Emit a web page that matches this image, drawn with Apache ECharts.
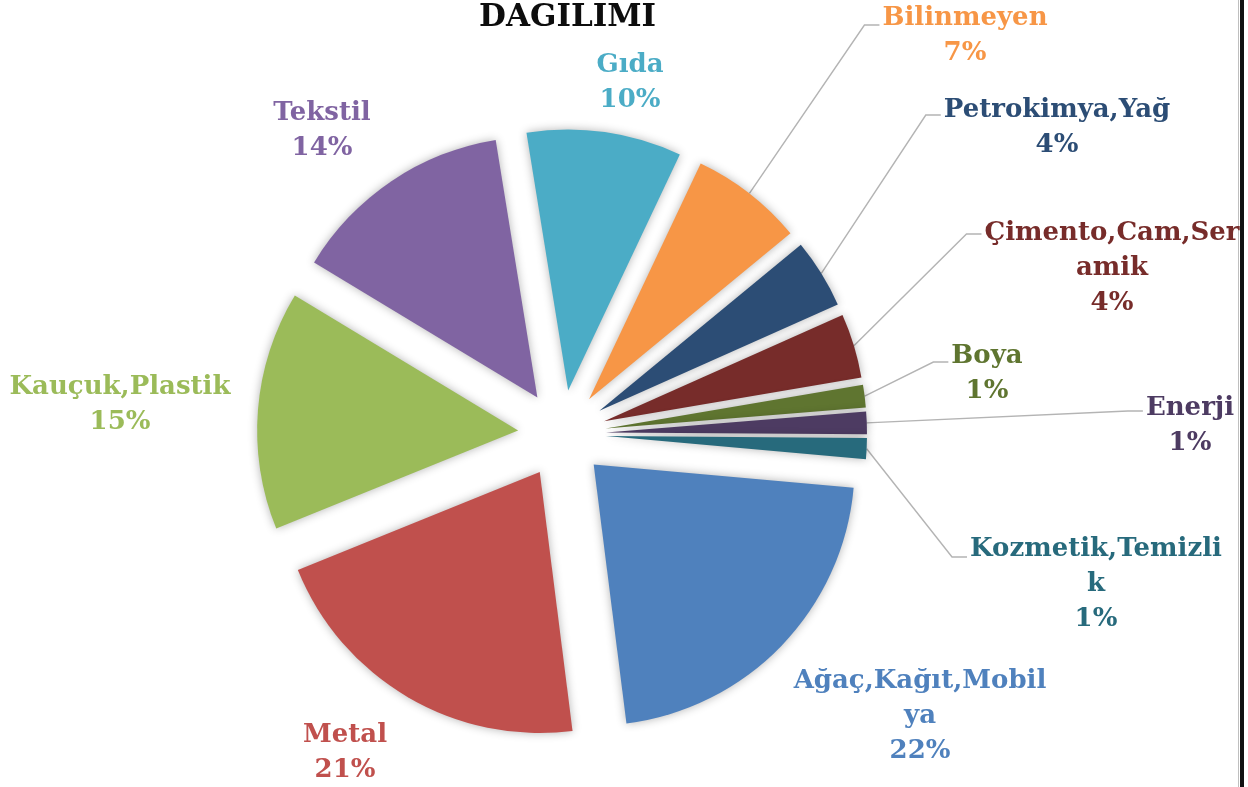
<!DOCTYPE html>
<html>
<head>
<meta charset="utf-8">
<script src="https://cdn.jsdelivr.net/npm/echarts@6/dist/echarts.min.js"></script>
<style>
  html, body { margin: 0; background: #fff; }
  #chart { width: 1248px; height: 787px; }
</style>
</head>
<body>
<div id="chart"></div>
<script>
// sectors, in the order the original pie draws them (clockwise)
const sectors = ['Ağaç,Kağıt,Mobilya', 'Metal', 'Kauçuk,Plastik', 'Tekstil', 'Gıda', 'Bilinmeyen',
  'Petrokimya,Yağ', 'Çimento,Cam,Seramik', 'Boya', 'Enerji', 'Kozmetik,Temizlik'];
const shares = [21.6, 20.9, 14.8, 13.8, 9.6, 7.0, 4.3, 4.0, 1.4, 1.4, 1.3];
// label text wrapped the way the original wraps it
const labelLines = [['Ağaç,Kağıt,Mobil', 'ya'], ['Metal'], ['Kauçuk,Plastik'], ['Tekstil'], ['Gıda'],
  ['Bilinmeyen'], ['Petrokimya,Yağ'], ['Çimento,Cam,Ser', 'amik'], ['Boya'], ['Enerji'], ['Kozmetik,Temizli', 'k']];
const colors = ['#4f81bd', '#c0504d', '#9bbb59', '#8064a2', '#4bacc6', '#f79646',
  '#2c4d75', '#772c2a', '#5f7530', '#4d3b62', '#276a7c'];

// where each label block sits (centre), lineY = height of the leader's last segment
const labelPos = [
  { x: 920, y: 716 },
  { x: 345, y: 753 },
  { x: 120, y: 405 },
  { x: 322, y: 131 },
  { x: 630, y: 83 },
  { x: 965, y: 36, lineY: 25 },
  { x: 1057, y: 128, lineY: 115 },
  { x: 1112, y: 268, lineY: 234 },
  { x: 987, y: 374, lineY: 362 },
  { x: 1190, y: 426, lineY: 411 },
  { x: 1096, y: 584, lineY: 557 }
];

const total = shares.reduce((a, b) => a + b, 0);
const font = 'DejaVu Serif';
const pieCenter = [562, 434];
const pieRadius = 261;
const startAngle = -5.1;
const explode = 44;

const labelLayout = (params) => {
  const p = labelPos[params.seriesIndex];
  const out = { x: p.x, y: p.y, align: 'center', verticalAlign: 'middle' };
  if (p.lineY != null && params.labelLinePoints) {
    const left = p.x - params.labelRect.width / 2;
    out.labelLinePoints = [params.labelLinePoints[0], [left - 18, p.lineY], [left - 3, p.lineY]];
  }
  return out;
};

// one pie per slice: same angles, only that slice painted, centre pushed out along its bisector
let acc = 0;
const series = sectors.map((name, k) => {
  const mid = (startAngle - (acc + shares[k] / 2) / total * 360) * Math.PI / 180;
  acc += shares[k];
  return {
    type: 'pie',
    name,
    center: [pieCenter[0] + explode * Math.cos(mid), pieCenter[1] - explode * Math.sin(mid)],
    radius: pieRadius,
    startAngle,
    clockwise: true,
    avoidLabelOverlap: false,
    silent: true,
    label: {
      position: 'outside',
      fontFamily: font,
      fontWeight: 'bold',
      fontSize: 26,
      lineHeight: 35,
      formatter: (p) => {
        const lines = labelLines[p.dataIndex].concat([Math.round(p.value / total * 100) + '%']);
        return lines.map((l) => '{c|' + l + '}').join('\n');
      },
      rich: { c: { align: 'center', lineHeight: 35 } }
    },
    labelLine: { lineStyle: { color: '#b4b4b4', width: 1.4 } },
    labelLayout,
    data: sectors.map((n, i) => ({
      name: n,
      value: shares[i],
      itemStyle: i === k
        ? { color: colors[i], shadowBlur: 10, shadowColor: 'rgba(0,0,0,0.3)' }
        : { color: 'rgba(0,0,0,0)' },
      label: { show: i === k, color: colors[i] },
      labelLine: { show: i === k && labelPos[i].lineY != null }
    }))
  };
});

const chart = echarts.init(document.getElementById('chart'), null, { renderer: 'canvas' });

chart.setOption({
  animation: false,
  backgroundColor: '#fff',
  title: {
    text: 'DAĞILIMI',
    left: 474,
    top: -3,
    textStyle: { fontFamily: font, fontWeight: 'bold', fontSize: 31, color: '#0d0d0d' }
  },
  graphic: [
    { type: 'rect', shape: { x: 1238, y: 0, width: 1, height: 787 }, style: { fill: '#bfbfbf' } },
    { type: 'rect', shape: { x: 1240, y: 0, width: 4, height: 787 }, style: { fill: '#111' } }
  ],
  series
});
</script>
</body>
</html>
